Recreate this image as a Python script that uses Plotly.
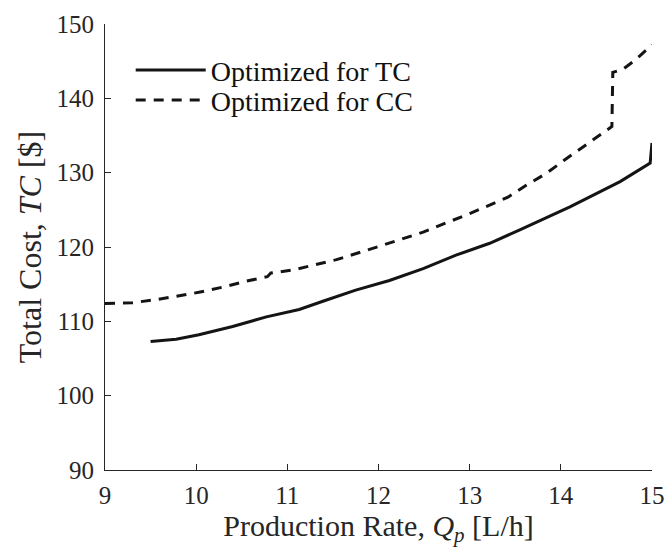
import plotly.graph_objects as go

# Optimized for TC (solid)
tc_x = [9.50, 9.78, 10.03, 10.40, 10.77, 11.13, 11.39, 11.75, 12.12, 12.49,
        12.85, 13.22, 13.55, 14.10, 14.65, 14.98, 15.00]
tc_y = [107.3, 107.6, 108.2, 109.3, 110.6, 111.6, 112.7, 114.2, 115.5, 117.1,
        118.9, 120.5, 122.3, 125.4, 128.8, 131.3, 134.0]

# Optimized for CC (dashed)
cc_x = [9.00, 9.30, 9.55, 9.79, 10.03, 10.29, 10.55, 10.78, 10.82, 11.06, 11.54,
        12.01, 12.49, 13.00, 13.42, 13.62, 13.84, 14.04, 14.25, 14.45, 14.56,
        14.57, 14.68, 14.83, 15.00]
cc_y = [112.4, 112.5, 112.9, 113.4, 113.9, 114.6, 115.4, 116.0, 116.5, 116.9, 118.3,
        120.1, 122.0, 124.5, 126.7, 128.3, 129.9, 131.7, 133.5, 135.3, 136.2,
        143.5, 143.9, 145.3, 147.2]

x_ticks = [9, 10, 11, 12, 13, 14, 15]
y_ticks = [90, 100, 110, 120, 130, 140, 150]

FONT = "Liberation Serif"
AX = "#262626"

fig = go.Figure()
fig.add_trace(go.Scatter(x=tc_x, y=tc_y, mode="lines", name="Optimized for TC",
                         line=dict(color="#141414", width=3), legend="legend"))
fig.add_trace(go.Scatter(x=cc_x, y=cc_y, mode="lines", name="Optimized for CC",
                         line=dict(color="#141414", width=3, dash="10px,8px"),
                         legend="legend2"))

leg_common = dict(xanchor="left", yanchor="middle", bgcolor="rgba(0,0,0,0)",
                  font=dict(family=FONT, size=28, color="#111"), itemwidth=70,
                  borderwidth=0)

fig.update_layout(
    width=667, height=548,
    margin=dict(l=105, r=15, t=24, b=78),
    plot_bgcolor="white", paper_bgcolor="white",
    font=dict(family=FONT, size=25, color=AX),
    showlegend=True,
    legend=dict(x=0.047, y=0.896, **leg_common),
    legend2=dict(x=0.047, y=0.829, **leg_common),
    xaxis=dict(range=[9, 15], tickvals=x_ticks, ticktext=[str(v) for v in x_ticks],
               showline=True, linecolor=AX, linewidth=1, mirror=False, automargin=False,
               ticks="inside", ticklen=6, tickcolor=AX, showgrid=False, zeroline=False,
               ticklabelstandoff=3,
               tickfont=dict(family=FONT, size=25, color=AX),
               title=dict(text="Production Rate, <i>Q</i><sub><i>p</i></sub> [L/h]",
                          font=dict(family=FONT, size=30, color=AX), standoff=6)),
    yaxis=dict(range=[90, 150], tickvals=y_ticks, ticktext=[str(v) for v in y_ticks],
               showline=True, linecolor=AX, linewidth=1, mirror=False, automargin=False,
               ticks="inside", ticklen=6, tickcolor=AX, showgrid=False, zeroline=False,
               ticklabelstandoff=5,
               tickfont=dict(family=FONT, size=25, color=AX),
               title=dict(text="Total Cost, <i>TC</i> [$]",
                          font=dict(family=FONT, size=32, color=AX), standoff=5)),
)

fig.write_html("out.html")
